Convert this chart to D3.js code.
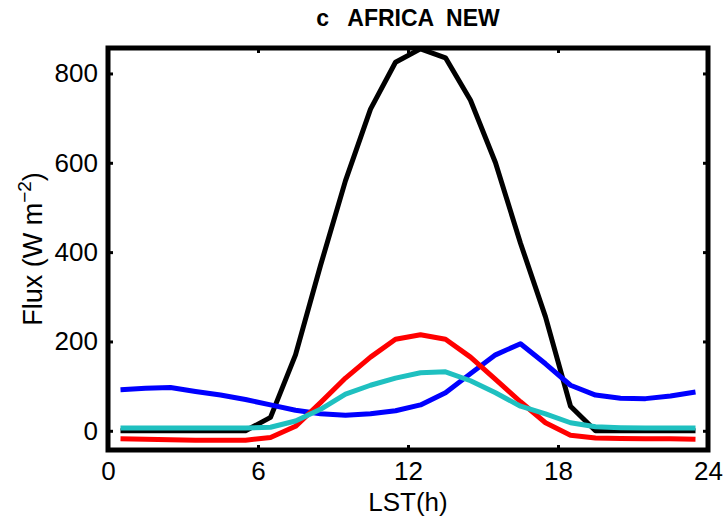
<!DOCTYPE html>
<html>
<head>
<meta charset="utf-8">
<script src="https://cdn.jsdelivr.net/npm/d3@7"></script>
<style>
  html, body { margin: 0; padding: 0; background: #fff; }
  svg { display: block; font-family: "Liberation Sans", Arial, Helvetica, sans-serif; }
</style>
</head>
<body>
<svg id="chart" width="725" height="519"></svg>
<script>
// Local solar time (hour midpoints)
const hours = [0.5,1.5,2.5,3.5,4.5,5.5,6.5,7.5,8.5,9.5,10.5,11.5,12.5,13.5,14.5,15.5,16.5,17.5,18.5,19.5,20.5,21.5,22.5,23.5];

// Diurnal flux series (W m^-2)
const blackSeries = [0,0,0,0,0,0,30,170,370,560,720,825,855,835,740,600,420,255,55,0,0,0,0,0];
const blueSeries  = [92,95,97,88,80,70,58,46,38,35,38,45,58,85,128,170,195,150,102,80,73,72,78,87];
const redSeries   = [-18,-19,-20,-21,-21,-21,-15,10,63,118,165,205,215,205,165,115,65,18,-10,-16,-17,-18,-18,-19];
const cyanSeries  = [6,6,6,6,6,6,8,22,48,82,102,118,130,132,112,85,55,38,18,9,7,6,6,6];

const xTicks = [0,6,12,18,24];
const yTicks = [0,200,400,600,800];

const series = [
  { name: "black", values: blackSeries, color: "#000000" },
  { name: "blue",  values: blueSeries,  color: "#0000ff" },
  { name: "red",   values: redSeries,   color: "#ff0000" },
  { name: "cyan",  values: cyanSeries,  color: "#1fc0c0" }
];

const svg = d3.select("#chart");
const m = { left: 108, right: 708, top: 48, bottom: 450 };

const x = d3.scaleLinear().domain([0, 24]).range([m.left, m.right]);
const y = d3.scaleLinear().domain([-43, 857]).range([m.bottom, m.top]);

// Data lines (clipped to the axes box)
svg.append("clipPath").attr("id", "plotclip")
  .append("rect").attr("x", m.left).attr("y", m.top)
  .attr("width", m.right - m.left).attr("height", m.bottom - m.top);

const line = d3.line().x((d, i) => x(hours[i])).y(d => y(d));
const g = svg.append("g").attr("clip-path", "url(#plotclip)");
series.forEach(s => {
  g.append("path")
    .datum(s.values)
    .attr("d", line)
    .attr("fill", "none")
    .attr("stroke", s.color)
    .attr("stroke-width", 5)
    .attr("stroke-linejoin", "round")
    .attr("stroke-linecap", "butt");
});

// Axes with inward ticks on all four sides
const tickLen = 5;
const bottomAxis = d3.axisBottom(x).tickValues(xTicks).tickSizeInner(-tickLen).tickSizeOuter(0).tickPadding(11.5);
const topAxis = d3.axisTop(x).tickValues(xTicks).tickSizeInner(-tickLen).tickSizeOuter(0).tickFormat("");
const leftAxis = d3.axisLeft(y).tickValues(yTicks).tickSizeInner(-tickLen).tickSizeOuter(0).tickPadding(10);
const rightAxis = d3.axisRight(y).tickValues(yTicks).tickSizeInner(-tickLen).tickSizeOuter(0).tickFormat("");

function styleAxis(sel) {
  sel.select(".domain").remove();
  sel.selectAll(".tick line").attr("stroke", "#000").attr("stroke-width", 3);
  sel.selectAll(".tick text").attr("fill", "#000").attr("font-size", 26);
}

svg.append("g").attr("transform", `translate(0,${m.bottom})`).call(bottomAxis).call(styleAxis);
svg.append("g").attr("transform", `translate(0,${m.top})`).call(topAxis).call(styleAxis);
svg.append("g").attr("transform", `translate(${m.left},0)`).call(leftAxis).call(styleAxis);
svg.append("g").attr("transform", `translate(${m.right},0)`).call(rightAxis).call(styleAxis);

// Axes box
svg.append("rect")
  .attr("x", m.left).attr("y", m.top)
  .attr("width", m.right - m.left).attr("height", m.bottom - m.top)
  .attr("fill", "none").attr("stroke", "#000").attr("stroke-width", 5);

// Title
svg.append("text")
  .attr("x", (m.left + m.right) / 2).attr("y", 26)
  .attr("text-anchor", "middle")
  .attr("font-size", 23).attr("font-weight", "bold")
  .attr("xml:space", "preserve")
  .text("c   AFRICA  NEW");

// X label
svg.append("text")
  .attr("x", (m.left + m.right) / 2).attr("y", 511)
  .attr("text-anchor", "middle")
  .attr("font-size", 26)
  .text("LST(h)");

// Y label with superscript
const yl = svg.append("text")
  .attr("transform", `translate(42,${(m.top + m.bottom) / 2}) rotate(-90)`)
  .attr("text-anchor", "middle")
  .attr("font-size", 27);
yl.append("tspan").text("Flux (W m");
yl.append("tspan").attr("dy", -11).attr("font-size", 19).text("−2");
yl.append("tspan").attr("dy", 11).text(")");
</script>
</body>
</html>
